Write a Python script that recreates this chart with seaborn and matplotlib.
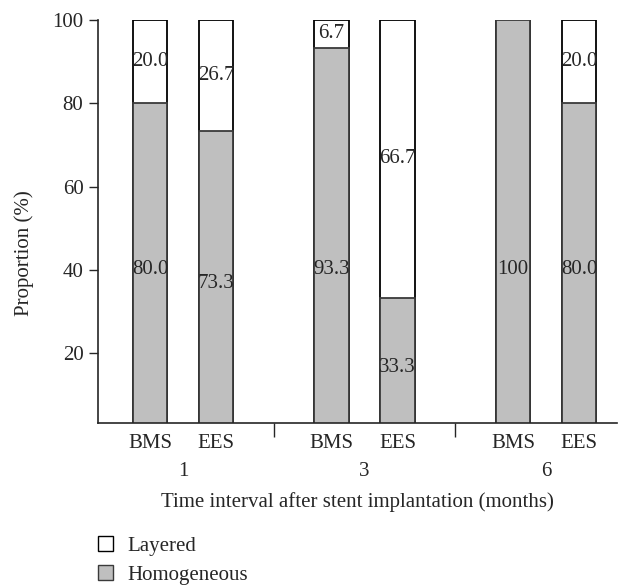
import matplotlib
matplotlib.use("Agg")
import matplotlib.pyplot as plt
import seaborn as sns
import pandas as pd
from matplotlib.patches import Patch

months = ["1", "3", "6"]
stents = ["BMS", "EES"]
homogeneous = [80.0, 73.3, 93.3, 33.3, 100.0, 80.0]
layered = [20.0, 26.7, 6.7, 66.7, 0.0, 20.0]

sns.set_style("ticks")
plt.rcParams["font.family"] = ["Liberation Serif", "DejaVu Serif"]
FS = 15

GRAY = "#bfbfbf"
group_gap = 2.75

rows = []
for i, (h, l) in enumerate(zip(homogeneous, layered)):
    g, s = divmod(i, len(stents))
    rows.append({"pos": g * group_gap + (s - 0.5), "month": months[g],
                 "stent": stents[s], "homogeneous": h, "layered": l,
                 "total": h + l})
df = pd.DataFrame(rows)

fig = plt.figure(figsize=(6.18, 5.86), dpi=100)
ax = fig.add_axes([98 / 618, 1 - 423 / 586, 519 / 618, 403 / 586])

sns.barplot(data=df, x="pos", y="total", native_scale=True, width=0.52,
            color="white", edgecolor="black", linewidth=1.3, saturation=1,
            errorbar=None, ax=ax)
sns.barplot(data=df, x="pos", y="homogeneous", native_scale=True, width=0.52,
            color=GRAY, edgecolor="#3a3a3a", linewidth=1.3, saturation=1,
            errorbar=None, ax=ax)

# segment labels
for _, r in df.iterrows():
    h, l = r["homogeneous"], r["layered"]
    txt = "100" if h == 100 else f"{h:.1f}"
    ax.text(r["pos"], min(h / 2, 40), txt, ha="center", va="center",
            fontsize=FS)
    if l > 0:
        ax.text(r["pos"], h + l / 2, f"{l:.1f}", ha="center", va="center",
                fontsize=FS)

ax.set_xlim(-1.288, 6.576)
ax.set_ylim(3.2, 100)
ax.set_yticks([20, 40, 60, 80, 100])
ax.tick_params(axis="y", length=6.5, width=1, pad=4, labelsize=FS)

ax.set_xticks(df["pos"])
ax.set_xticklabels(df["stent"])
ax.tick_params(axis="x", which="major", length=0, pad=8, labelsize=FS)
seps = [(g + 0.5) * group_gap for g in range(len(months) - 1)]
ax.set_xticks(seps, minor=True)
ax.tick_params(axis="x", which="minor", length=10, width=1, direction="out")

for g, m in enumerate(months):
    ax.text(g * group_gap, -(471 - 423) / 403, m, ha="center", va="center",
            transform=ax.get_xaxis_transform(), fontsize=FS)

sns.despine(ax=ax)
for sp in ("left", "bottom"):
    ax.spines[sp].set_linewidth(1.2)

ax.set_xlabel("Time interval after stent implantation (months)", fontsize=FS)
ax.xaxis.set_label_coords(0.5, -(502 - 423) / 403)
ax.xaxis.label.set_va("center")
ax.set_ylabel("Proportion (%)", fontsize=FS)
ax.yaxis.set_label_coords((24 - 98) / 519, 1 - (253 - 20) / 403)
ax.yaxis.label.set_va("center")

handles = [Patch(facecolor="white", edgecolor="black", linewidth=1),
           Patch(facecolor=GRAY, edgecolor="#3a3a3a", linewidth=1)]
fig.legend(handles, ["Layered", "Homogeneous"], loc="upper left",
           bbox_to_anchor=(98 / 618, 1 - 536 / 586), frameon=False,
           handlelength=0.7, handleheight=0.7, handletextpad=0.7,
           labelspacing=0.45, fontsize=FS, borderpad=0, borderaxespad=0)

fig.savefig("out.png", dpi=100)
